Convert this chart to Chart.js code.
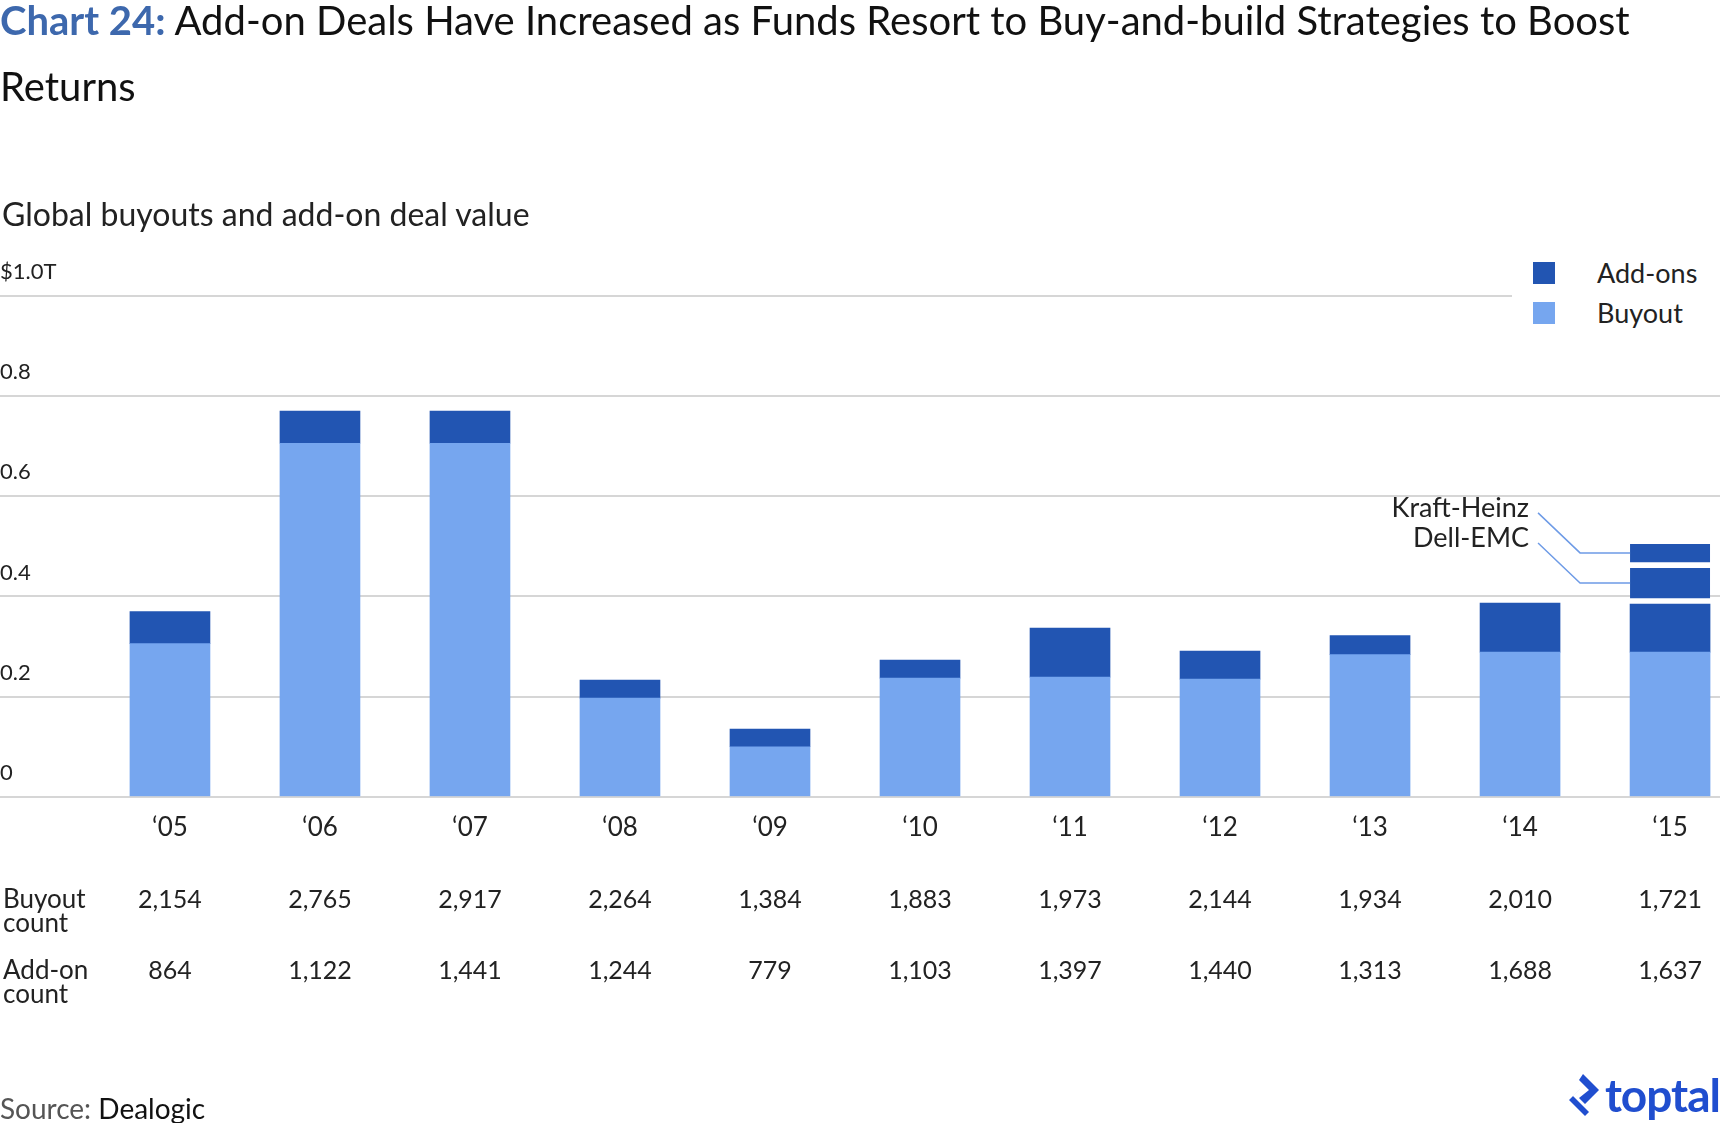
<!DOCTYPE html>
<html>
<head>
<meta charset="utf-8">
<script src="https://cdn.jsdelivr.net/npm/chart.js@4.4.0/dist/chart.umd.min.js"></script>
<style>
    body { margin: 0; width: 1720px; height: 1123px; overflow: hidden; background: #fff; font-family: Lato, sans-serif; color: #222; position: relative; }
    #chart { position: absolute; left: 0; top: 0; }
    .title { position: absolute; left: 0; top: -13px; font-size: 40px; line-height: 66px; color: #111; white-space: nowrap; }
    .title b { color: #3d68ad; font-weight: 700; }
    .subtitle { position: absolute; left: 2px; top: 195px; font-size: 32px; line-height: 38px; }
    .legend { position: absolute; left: 1512px; top: 252px; width: 208px; height: 84px; background: #fff; }
    .legend div { position: absolute; left: 21px; height: 36px; line-height: 36px; font-size: 27px; padding-left: 64px; }
    .legend span { position: absolute; left: 0; top: 7px; width: 22px; height: 22px; }
    .source { position: absolute; left: 0; top: 1091px; font-size: 28px; line-height: 34px; color: #555; }
    .source span { color: #111; }
    .logo { position: absolute; right: 0; top: 1072px; height: 50px; color: #204ecf; font-size: 46px; line-height: 46px; font-weight: 700; letter-spacing: -1px; }
    .logo svg { vertical-align: -6px; margin-right: 2px; }
</style>
</head>
<body>
<canvas id="chart" width="1720" height="1123"></canvas>
<div class="title"><b>Chart 24:</b> Add-on Deals Have Increased as Funds Resort to Buy-and-build Strategies to Boost<br>Returns</div>
<div class="subtitle">Global buyouts and add-on deal value</div>
<div class="legend">
    <div style="top: 3px;"><span style="background:#2255b2"></span>Add-ons</div>
    <div style="top: 43px;"><span style="background:#76a6ef"></span>Buyout</div>
</div>
<div class="source">Source: <span>Dealogic</span></div>
<div class="logo"><svg width="34" height="46" viewBox="0 0 34 46"><path d="M14 2 L30 18 L16 32 L10 26 L20 18 L10 8 Z M8 20 L4 24 L20 40 L16 44 L0 28 L12 16 Z" fill="#204ecf"/></svg>toptal</div>
<script>
const years = ['\u201805', '\u201806', '\u201807', '\u201808', '\u201809', '\u201810', '\u201811', '\u201812', '\u201813', '\u201814', '\u201815'];
// deal value, $ trillions
const buyoutValue = [0.306, 0.706, 0.706, 0.197, 0.100, 0.237, 0.239, 0.235, 0.284, 0.289, 0.289];
const addonValue = [0.064, 0.064, 0.064, 0.036, 0.035, 0.036, 0.098, 0.056, 0.038, 0.098, 0.096];
const dellEmc = [null, null, null, null, null, null, null, null, null, null, 0.072];
const kraftHeinz = [null, null, null, null, null, null, null, null, null, null, 0.048];
const buyoutCount = [2154, 2765, 2917, 2264, 1384, 1883, 1973, 2144, 1934, 2010, 1721];
const addonCount = [864, 1122, 1441, 1244, 779, 1103, 1397, 1440, 1313, 1688, 1637];
const yTicks = [0, 0.2, 0.4, 0.6, 0.8, 1.0];

const DARK = '#2255b2';
const LIGHT = '#76a6ef';
const FONT = 'Lato, sans-serif';

const toPoints = arr => arr.map((v, i) => ({ x: i, y: v }));

const countTable = {
    id: 'countTable',
    afterDraw(chart) {
        const { ctx, chartArea } = chart;
        const x = chart.scales.x;
        const b = chartArea.bottom;
        ctx.save();
        ctx.fillStyle = '#222';
        ctx.textBaseline = 'middle';
        ctx.font = `26px ${FONT}`;
        ctx.textAlign = 'left';
        ctx.fillText('Buyout', 3, b + 103);
        ctx.fillText('count', 3, b + 127);
        ctx.fillText('Add-on', 3, b + 174);
        ctx.fillText('count', 3, b + 198);
        ctx.font = `25px ${FONT}`;
        ctx.textAlign = 'center';
        years.forEach((_, i) => {
            const px = x.getPixelForValue(i);
            ctx.fillText(buyoutCount[i].toLocaleString('en-US'), px, b + 103);
            ctx.fillText(addonCount[i].toLocaleString('en-US'), px, b + 174);
        });
        ctx.restore();
    }
};

const dealCallouts = {
    id: 'dealCallouts',
    afterDatasetsDraw(chart) {
        const { ctx } = chart;
        const last = years.length - 1;
        const items = [
            { label: 'Kraft-Heinz', el: chart.getDatasetMeta(3).data[last] },
            { label: 'Dell-EMC', el: chart.getDatasetMeta(2).data[last] }
        ];
        ctx.save();
        ctx.strokeStyle = '#6e9be6';
        ctx.lineWidth = 1.5;
        ctx.fillStyle = '#222';
        ctx.font = `27px ${FONT}`;
        ctx.textAlign = 'right';
        ctx.textBaseline = 'middle';
        items.forEach(({ label, el }) => {
            const left = el.x - el.width / 2;
            const mid = (el.y + el.base - 6) / 2;
            ctx.beginPath();
            ctx.moveTo(left, mid);
            ctx.lineTo(left - 50, mid);
            ctx.lineTo(left - 92, mid - 40);
            ctx.stroke();
            ctx.fillText(label, left - 101, mid - 45);
        });
        ctx.restore();
    }
};

new Chart(document.getElementById('chart'), {
    type: 'bar',
    data: {
        datasets: [
            { label: 'Buyout', data: toPoints(buyoutValue), backgroundColor: LIGHT, barThickness: 80 },
            { label: 'Add-ons', data: toPoints(addonValue), backgroundColor: DARK, barThickness: 80 },
            { label: 'Dell-EMC', data: toPoints(dellEmc), backgroundColor: DARK, borderColor: '#fff', borderWidth: { bottom: 6 }, borderSkipped: false, barThickness: 80 },
            { label: 'Kraft-Heinz', data: toPoints(kraftHeinz), backgroundColor: DARK, borderColor: '#fff', borderWidth: { bottom: 6 }, borderSkipped: false, barThickness: 80 }
        ]
    },
    options: {
        responsive: false,
        animation: false,
        layout: { padding: { top: 296, bottom: 273, left: 0, right: 0 } },
        plugins: { legend: { display: false }, tooltip: { enabled: false } },
        scales: {
            x: {
                type: 'linear',
                stacked: true,
                offset: false,
                min: -1.133,
                max: 10.333,
                afterBuildTicks: axis => { axis.ticks = years.map((_, i) => ({ value: i })); },
                ticks: { callback: v => years[v], font: { family: FONT, size: 26 }, color: '#222', padding: 7, maxRotation: 0, autoSkip: false },
                grid: { display: false, offset: false },
                border: { display: false }
            },
            y: {
                stacked: true,
                min: 0,
                max: 1.0,
                afterBuildTicks: axis => { axis.ticks = yTicks.map(v => ({ value: v })); },
                ticks: {
                    mirror: true,
                    padding: 0,
                    labelOffset: -24,
                    font: { family: FONT, size: 22 },
                    color: '#222',
                    callback: v => v === 1 ? '$1.0T' : (v === 0 ? '0' : v.toFixed(1))
                },
                grid: { color: '#d6d6d6', lineWidth: 2, drawTicks: false },
                border: { display: false }
            }
        }
    },
    plugins: [countTable, dealCallouts]
});
</script>
</body>
</html>
